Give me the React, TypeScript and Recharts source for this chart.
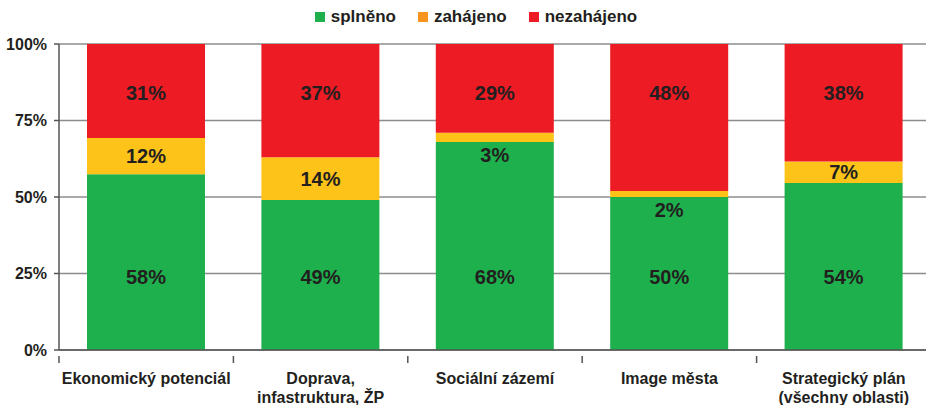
import React from 'react';
import { BarChart, Bar, XAxis, YAxis, CartesianGrid, LabelList } from 'recharts';

const categories = [
  'Ekonomický potenciál',
  'Doprava,\ninfastruktura, ŽP',
  'Sociální zázemí',
  'Image města',
  'Strategický plán\n(všechny oblasti)',
];
const splneno = [58, 49, 68, 50, 54];
const zahajeno = [12, 14, 3, 2, 7];
const nezahajeno = [31, 37, 29, 48, 38];
const yTicks = [0, 0.25, 0.5, 0.75, 1];

const GREEN = '#1DB04C';
const YELLOW = '#FDC318';
const ORANGE = '#F7941D';
const RED = '#ED1C24';
const TEXT = '#231F20';
const AXIS = '#555';
const FONT = '"Liberation Sans", Arial, sans-serif';

const data = categories.map((name, i) => ({
  name,
  splneno: splneno[i],
  zahajeno: zahajeno[i],
  nezahajeno: nezahajeno[i],
}));

const legendItems = [
  { label: 'splněno', color: GREEN },
  { label: 'zahájeno', color: ORANGE },
  { label: 'nezahájeno', color: RED },
];

const PLOT_TOP = 44;
const PLOT_HEIGHT = 306;
const CHART_W = 931;
const Y_W = 59;
const BAND = (CHART_W - Y_W) / categories.length;

// ticks sit between categories, label in the middle
// eslint-disable-next-line @typescript-eslint/no-explicit-any
const CategoryTick = ({ x, y, payload }: any) => {
  const lines = String(payload.value).split('\n');
  const tx = x - BAND / 2;
  return (
    <g>
      <line x1={tx} x2={tx} y1={y - 2} y2={y + 5} stroke={AXIS} strokeWidth={1.5} />
      <text x={x} y={y} textAnchor="middle" fontFamily={FONT} fontWeight="bold" fontSize={16} fill={TEXT}>
        {lines.map((l, i) => (
          <tspan key={i} x={x} dy={i === 0 ? 26 : 19}>
            {l}
          </tspan>
        ))}
      </text>
    </g>
  );
};

// eslint-disable-next-line @typescript-eslint/no-explicit-any
const FixedLabel = (frac: number) => (props: any) => {
  const { x, width, value } = props;
  const cy = PLOT_TOP + PLOT_HEIGHT * (1 - frac);
  return (
    <text x={x + width / 2} y={cy} textAnchor="middle" dominantBaseline="central" fontFamily={FONT} fontWeight="bold" fontSize={20} fill={TEXT}>
      {value}%
    </text>
  );
};
const GreenLabel = FixedLabel(0.24);
const RedLabel = FixedLabel(0.84);

// small segments get their label just below them
// eslint-disable-next-line @typescript-eslint/no-explicit-any
const MidLabel = (props: any) => {
  const { x, y, width, height, value } = props;
  const cy = value < 5 ? y + height + 13 : y + height / 2;
  return (
    <text x={x + width / 2} y={cy} textAnchor="middle" dominantBaseline="central" fontFamily={FONT} fontWeight="bold" fontSize={20} fill={TEXT}>
      {value}%
    </text>
  );
};

const CustomLegend = () => (
  <div
    style={{
      position: 'absolute',
      top: 7,
      left: 0,
      width: 926,
      display: 'flex',
      justifyContent: 'center',
      gap: 22,
      fontFamily: FONT,
      fontWeight: 'bold',
      fontSize: 17,
      color: TEXT,
      paddingLeft: 26,
      boxSizing: 'border-box',
    }}
  >
    {legendItems.map((it) => (
      <div key={it.label} style={{ display: 'flex', alignItems: 'center' }}>
        <span style={{ width: 10, height: 10, background: it.color, marginRight: 6, display: 'inline-block' }} />
        {it.label}
      </div>
    ))}
  </div>
);

export default function App() {
  return (
    <div style={{ position: 'fixed', left: 0, top: 0, width: 926, height: 405, overflow: 'hidden', background: '#fff' }}>
      <CustomLegend />
      <BarChart
        width={CHART_W}
        height={405}
        data={data}
        stackOffset="expand"
        barSize={118}
        margin={{ top: PLOT_TOP, right: 0, left: 0, bottom: 0 }}
      >
        <CartesianGrid vertical={false} stroke="#8C8C8C" strokeWidth={1.5} />
        <XAxis
          dataKey="name"
          interval={0}
          height={55}
          tick={<CategoryTick />}
          axisLine={{ stroke: AXIS, strokeWidth: 1.5 }}
          tickLine={false}
          tickSize={6}
        />
        <YAxis
          width={Y_W}
          domain={[0, 1]}
          ticks={yTicks}
          tickFormatter={(v: number) => `${Math.round(v * 100)}%`}
          tick={{ fontFamily: FONT, fontWeight: 'bold', fontSize: 16, fill: TEXT }}
          axisLine={{ stroke: AXIS, strokeWidth: 1.5 }}
          tickLine={{ stroke: AXIS, strokeWidth: 1.5 }}
          tickSize={5}
          tickMargin={7}
        />
        <Bar dataKey="splneno" stackId="a" fill={GREEN} isAnimationActive={false}>
          <LabelList dataKey="splneno" content={<GreenLabel />} />
        </Bar>
        <Bar dataKey="zahajeno" stackId="a" fill={YELLOW} isAnimationActive={false}>
          <LabelList dataKey="zahajeno" content={<MidLabel />} />
        </Bar>
        <Bar dataKey="nezahajeno" stackId="a" fill={RED} isAnimationActive={false}>
          <LabelList dataKey="nezahajeno" content={<RedLabel />} />
        </Bar>
      </BarChart>
    </div>
  );
}
